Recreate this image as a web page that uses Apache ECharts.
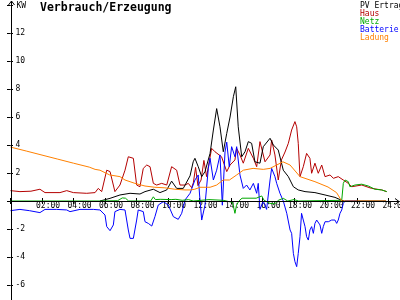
<!DOCTYPE html>
<html><head><meta charset="utf-8">
<script src="https://cdn.jsdelivr.net/npm/echarts@6/dist/echarts.min.js"></script>
<style>html,body{margin:0;padding:0;background:#fff}#c{width:400px;height:300px}</style>
</head><body><div id="c"></div>
<script>
// ---- data (hours, kW) ----
const hourLabels = ['', '02:00', '04:00', '06:00', '08:00', '10:00', '12:00', '14:00', '16:00', '18:00', '20:00', '22:00', '24:00'];
const seriesNames = ['PV Ertrag', 'Haus', 'Netz', 'Batterie', 'Ladung'];

const pvHours = [5.68,6.32,6.95,7.59,8.22,8.54,9.07,9.49,9.92,10.23,10.55,10.97,11.4,11.6,11.71,11.92,12.14,12.35,12.67,12.88,13.09,13.3,13.51,13.73,13.94,14.15,14.3,14.46,14.68,14.89,15.1,15.31,15.52,15.84,16.05,16.48,16.69,17.0,17.32,17.64,17.96,18.27,18.7,19.33,19.97,20.6,21.03,21.2,23.84];
const pvValues = [0,0.19,0.43,0.55,0.5,0.67,0.84,0.6,0.79,1.42,0.9,0.9,1.8,2.8,3.05,2.45,1.74,2.1,3.4,5.07,6.6,5.3,3.52,4.83,6.0,7.45,8.16,5.3,3.16,3.52,4.24,4.12,2.8,2.7,3.88,4.48,4.0,3.64,2.2,1.74,1.02,0.79,0.67,0.6,0.43,0.26,0.05,0,0];

const hausHours = [0,0.6,1.3,1.87,2.19,3.14,3.57,3.99,4.84,5.37,5.57,5.79,6.11,6.32,6.63,6.95,7.27,7.48,7.8,8.01,8.22,8.43,8.65,8.86,9.07,9.28,9.6,9.92,10.23,10.55,10.76,11.08,11.29,11.5,11.61,11.75,11.9,12.1,12.28,12.45,12.77,12.98,13.4,13.73,13.94,14.25,14.36,14.57,14.78,15.1,15.42,15.63,15.84,15.95,16.16,16.48,16.58,16.79,17.0,17.2,17.43,17.64,17.85,18.06,18.17,18.27,18.38,18.59,18.8,19.01,19.12,19.33,19.54,19.76,19.97,20.29,20.5,20.81,21.13,21.45,21.66,22.3,22.93,23.57,23.88];
const hausValues = [0.74,0.67,0.7,0.84,0.6,0.6,0.74,0.6,0.55,0.6,0.9,0.67,2.2,2.1,0.67,1.14,2.2,3.16,3.05,1.14,1.02,2.33,2.57,2.45,1.26,1.14,1.26,1.14,2.45,2.2,1.14,1.14,1.26,0.95,1.3,2.4,1.1,1.5,2.9,1.74,3.76,3.52,3.16,2.1,2.57,2.93,3.76,3.29,2.7,3.76,3.05,2.45,4.24,4.36,2.8,3.29,4.36,3.29,1.5,2.93,3.5,4.12,5.07,5.67,5.3,4.12,1.74,2.45,3.4,3.05,1.98,2.7,1.98,2.57,1.74,1.86,1.62,1.74,1.5,1.26,1.02,1.14,0.9,0.79,0.67];

const netzHours = [0,5.7,6.8,7.1,7.3,7.5,8.9,9.07,9.2,9.5,10.2,10.5,10.9,11.3,11.6,12.6,13.5,14.1,14.25,14.35,14.5,14.7,15.6,15.95,16.1,16.48,16.79,17.0,17.32,17.6,18.0,18.3,21.03,21.13,21.24,21.45,21.55,21.87,22.3,22.72,23.14,23.57,23.89];
const netzValues = [0,0,0.02,0.22,0.2,0,0,0.3,0.1,0.12,0.1,0.12,0.05,0.1,0,0.1,0.05,-0.1,-0.88,-0.3,0,0.2,0.2,0.36,0.05,-0.17,-0.2,0.05,0.19,0,0.1,0,0.05,1.26,1.5,1.38,1.02,1.14,1.2,1.07,0.84,0.79,0.67];

const battHours = [0,0.6,1.2,1.87,2.19,2.93,3.57,3.78,4.41,5.26,5.68,6.0,6.11,6.32,6.53,6.63,6.95,7.27,7.48,7.59,7.8,8.01,8.11,8.43,8.54,8.75,8.97,9.17,9.38,9.7,10.02,10.34,10.65,10.87,11.08,11.4,11.71,11.92,12.0,12.14,12.35,12.56,12.67,12.88,13.09,13.3,13.45,13.62,13.73,13.89,14.04,14.25,14.36,14.57,14.78,14.99,15.2,15.42,15.63,15.73,15.84,16.05,16.26,16.48,16.58,16.79,16.9,17.11,17.32,17.43,17.54,17.75,17.85,17.96,18.06,18.17,18.27,18.38,18.48,18.59,18.7,18.8,18.91,19.01,19.12,19.23,19.33,19.44,19.54,19.65,19.76,19.86,19.97,20.18,20.39,20.6,20.71,20.81,20.92,21.03,21.13,21.24,22.0];
const battValues = [-0.69,-0.6,-0.69,-0.83,-0.6,-0.6,-0.64,-0.76,-0.6,-0.6,-0.64,-1.0,-1.83,-2.12,-1.71,-0.76,-0.6,-0.64,-2.07,-2.67,-2.67,-1.36,-0.64,-0.76,-1.48,-1.6,-1.79,-1.12,-0.29,-0.05,-0.29,-1.12,-1.31,-0.88,0.07,0.55,1.5,1.86,0.5,-1.36,-0.29,2.33,3.05,1.5,2.2,3.29,-0.3,3.5,4.2,2.45,3.88,3.16,3.88,1.86,0.9,1.14,0.79,1.26,0.55,1.26,-0.6,0,-0.6,1.5,2.33,1.74,1.26,0.55,0,0,-0.88,-2.07,-2.31,-3.74,-4.33,-4.69,-3.74,-2.55,-0.88,-1.36,-1.83,-2.55,-2.79,-2.07,-1.83,-2.31,-1.6,-1.36,-1.36,-1.71,-2.31,-1.83,-1.48,-1.48,-1.36,-1.36,-1.6,-1.36,-0.88,-0.64,-0.17,0,0];

const ladHours = [0,1,2,3,4,5,5.37,5.68,6.3,6.95,7.27,7.9,8.54,9.17,9.8,10.44,11.08,11.4,11.7,12.03,12.67,13.09,13.5,13.9,14.36,14.78,15.4,16.05,16.48,16.9,17.3,17.75,18.38,19.33,20.16,20.7,20.92,21.03,23.85];
const ladValues = [3.85,3.57,3.28,2.99,2.7,2.42,2.26,2.2,1.86,1.74,1.5,1.26,1.07,0.98,0.94,0.84,0.79,0.79,0.84,0.98,0.98,1.14,1.5,1.5,1.86,2.2,2.33,2.26,2.33,2.57,2.8,2.57,1.74,1.38,1.0,0.6,0.2,0,0];

const colors = {'PV Ertrag':'#000000','Haus':'#b40000','Netz':'#00a800','Batterie':'#0000ff','Ladung':'#ff8000'};
const MONO = 'DejaVu Sans Mono';

// scale layout
const Y_MIN = -8, Y_MAX = 14, X_MIN = 0, X_MAX = 24;
const PX_PER_KW = 14, PX_PER_H = 15.75;
const GRID_TOP = 5, GRID_LEFT = 10.5;
const X_AXIS_OFFSET = -(0 - Y_MIN) * PX_PER_KW; // move x axis up to the zero line

function pairs(h, v) { return h.map((x, i) => [x, v[i]]); }
function mkLine(name, h, v) {
  return { name, type: 'line', xAxisIndex: 0, yAxisIndex: 0, data: pairs(h, v),
    showSymbol: false, symbol: 'none', clip: true,
    lineStyle: { width: 1, color: colors[name] }, itemStyle: { color: colors[name] } };
}

const chart = echarts.init(document.getElementById('c'), null, { renderer: 'canvas' });
const axCommonX = { type: 'value', min: X_MIN, max: X_MAX, interval: 2, position: 'bottom', offset: X_AXIS_OFFSET,
  axisLine: { show: false, onZero: false }, splitLine: { show: false } };
const axCommonY = { type: 'value', min: Y_MIN, max: Y_MAX, interval: 2, position: 'left',
  axisLine: { show: false, onZero: false }, splitLine: { show: false } };

chart.setOption({
  animation: false,
  backgroundColor: '#ffffff',
  title: { text: 'Verbrauch/Erzeugung', left: 40, top: 2.5, padding: 0,
    textStyle: { fontFamily: MONO, fontSize: 11.5, fontWeight: 'bold', color: '#000' } },
  legend: { orient: 'vertical', left: 355, top: 2, padding: 0, itemGap: 0, itemWidth: 0, itemHeight: 0,
    selectedMode: false,
    textStyle: { fontFamily: MONO, fontSize: 8, lineHeight: 7.3 },
    data: seriesNames.map(n => ({ name: n, icon: 'rect', textStyle: { color: colors[n] } })) },
  grid: { left: GRID_LEFT, top: GRID_TOP, width: (X_MAX - X_MIN) * PX_PER_H, height: (Y_MAX - Y_MIN) * PX_PER_KW,
    containLabel: false, outerBoundsMode: 'none' },
  xAxis: [
    Object.assign({}, axCommonX, {
      axisTick: { show: true, inside: false, length: 3, lineStyle: { color: '#000' } },
      axisLabel: { show: true, margin: 1, align: 'left', padding: [0, 0, 0, -6],
        fontFamily: MONO, fontSize: 8, color: '#000',
        formatter: v => hourLabels[Math.round(v / 2)] || '' } }),
    Object.assign({}, axCommonX, {
      axisTick: { show: true, inside: true, length: 3, lineStyle: { color: '#000' } },
      axisLabel: { show: false } })
  ],
  yAxis: [
    Object.assign({}, axCommonY, {
      axisTick: { show: true, inside: false, length: 3.5, lineStyle: { color: '#000' } },
      axisLabel: { show: true, inside: true, margin: 5, fontFamily: MONO, fontSize: 8, color: '#000',
        formatter: v => (v === 0 || v >= 14 || v <= -8) ? '' : String(v) } }),
    Object.assign({}, axCommonY, {
      axisTick: { show: true, inside: true, length: 2.5, lineStyle: { color: '#000' } },
      axisLabel: { show: false } })
  ],
  series: [
    mkLine('Haus', hausHours, hausValues),
    mkLine('PV Ertrag', pvHours, pvValues),
    mkLine('Batterie', battHours, battValues),
    mkLine('Netz', netzHours, netzValues),
    mkLine('Ladung', ladHours, ladValues)
  ]
});

// axis lines with open arrowheads, positioned from the axis scales
const o = chart.convertToPixel({ gridIndex: 0 }, [0, 0]);
const xEnd = chart.convertToPixel({ gridIndex: 0 }, [24, 0])[0] + 10.5;
const yTop = chart.convertToPixel({ gridIndex: 0 }, [0, 14])[1] - 4;
const ax = Math.round(o[0]) + 0.5, ay = Math.round(o[1]) + 0.5;
const ls = { stroke: '#000', lineWidth: 1 };
chart.setOption({ graphic: [
  { type: 'line', shape: { x1: ax, y1: 300, x2: ax, y2: yTop }, style: ls, z: 10 },
  { type: 'polyline', shape: { points: [[ax - 3, yTop + 4], [ax, yTop], [ax + 3, yTop + 4]] }, style: Object.assign({ fill: null }, ls), z: 10 },
  { type: 'line', shape: { x1: ax, y1: ay, x2: xEnd, y2: ay }, style: ls, z: 10 },
  { type: 'polyline', shape: { points: [[xEnd - 4, ay - 3], [xEnd, ay], [xEnd - 4, ay + 3]] }, style: Object.assign({ fill: null }, ls), z: 10 },
  { type: 'text', x: ax + 5, y: yTop + 1, style: { text: 'KW', fontFamily: MONO, fontSize: 8, fill: '#000', textVerticalAlign: 'top' }, z: 10 }
] });
</script></body></html>
